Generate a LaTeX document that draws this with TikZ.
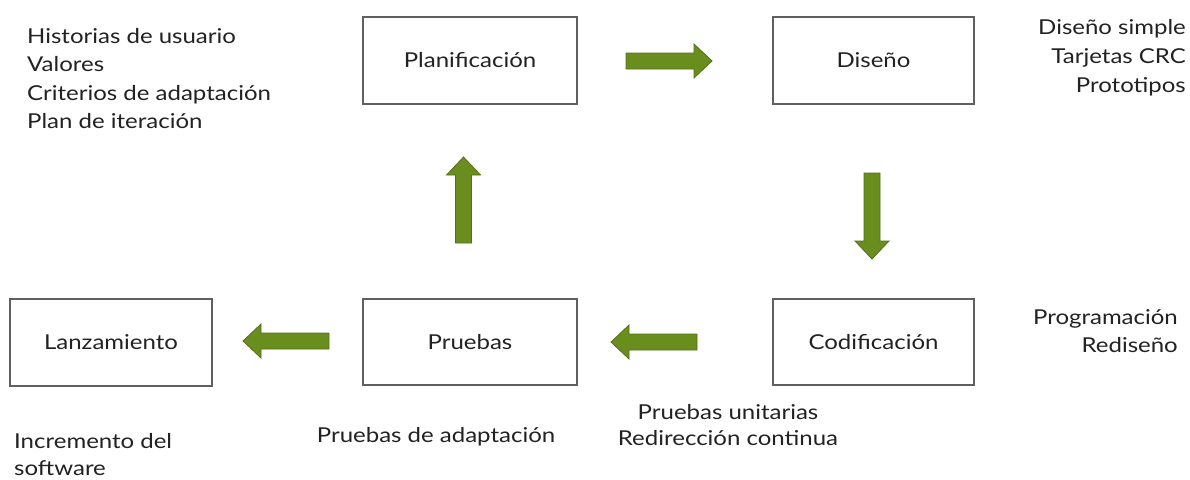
\documentclass[tikz,border=0pt]{standalone}
\usepackage{fontspec}
\setmainfont{Lato}[FakeStretch=1.17]
\definecolor{arrowfill}{HTML}{6A8E1E}
\definecolor{arrowline}{HTML}{52701A}
\definecolor{boxline}{HTML}{606060}
\definecolor{txt}{HTML}{222222}
\begin{document}
\begin{tikzpicture}[x=1pt,y=-1pt,
  every node/.style={text=txt,font=\fontsize{20.5}{28}\selectfont},
  stagebox/.style={draw=boxline,line width=1.2pt,fill=white,inner sep=0pt},
  lbl/.style={inner sep=0pt},
  blk/.pic={\filldraw[fill=arrowfill,draw=arrowline,line width=0.8pt,line join=miter]
     (0,-8) -- (68,-8) -- (68,-17) -- (86,0) -- (68,17) -- (68,8) -- (0,8) -- cycle;}]
\useasboundingbox (0,0) rectangle (1190,479);
\fill[white] (0,0) rectangle (1190,479);
% boxes
\node[stagebox,minimum width=214pt,minimum height=87pt] (plan) at (470,60.5) {Planificación};
\node[stagebox,minimum width=201pt,minimum height=87pt] (dis) at (873.5,60.5) {Diseño};
\node[stagebox,minimum width=201pt,minimum height=86pt] (cod) at (873.5,342) {Codificación};
\node[stagebox,minimum width=214pt,minimum height=86pt] (pru) at (470,342) {Pruebas};
\node[stagebox,minimum width=202pt,minimum height=87pt] (lan) at (111,342.5) {Lanzamiento};
% block arrows
\pic[name=a1] at (626,61) {blk};
\pic[name=a2,rotate=-90] at (872,173) {blk};
\pic[name=a3,rotate=180] at (697,342) {blk};
\pic[name=a4,rotate=90] at (463.5,243) {blk};
\pic[name=a5,rotate=180] at (329,341) {blk};
% labels
\node[lbl,anchor=base west] (t1) at (27,43) {Historias de usuario};
\node[lbl,anchor=base west] (t2) at (27,71.5) {Valores};
\node[lbl,anchor=base west] (t3) at (27,100) {Criterios de adaptación};
\node[lbl,anchor=base west] (t4) at (27,128) {Plan de iteración};
\node[lbl,anchor=base east] (r1) at (1186,34) {Diseño simple};
\node[lbl,anchor=base east] (r2) at (1186,63) {Tarjetas CRC};
\node[lbl,anchor=base east] (r3) at (1186,92) {Prototipos};
\node[lbl,anchor=base east] (p1) at (1178,324) {Programación};
\node[lbl,anchor=base east] (p2) at (1178,352) {Rediseño};
\node[lbl,anchor=base] (u1) at (728,419) {Pruebas unitarias};
\node[lbl,anchor=base] (u2) at (728,445) {Redirección continua};
\node[lbl,anchor=base] (d1) at (436,442) {Pruebas de adaptación};
\node[lbl,anchor=base west] (i1) at (14,448) {Incremento del};
\node[lbl,anchor=base west] (i2) at (14,475) {software};
\end{tikzpicture}
\end{document}
